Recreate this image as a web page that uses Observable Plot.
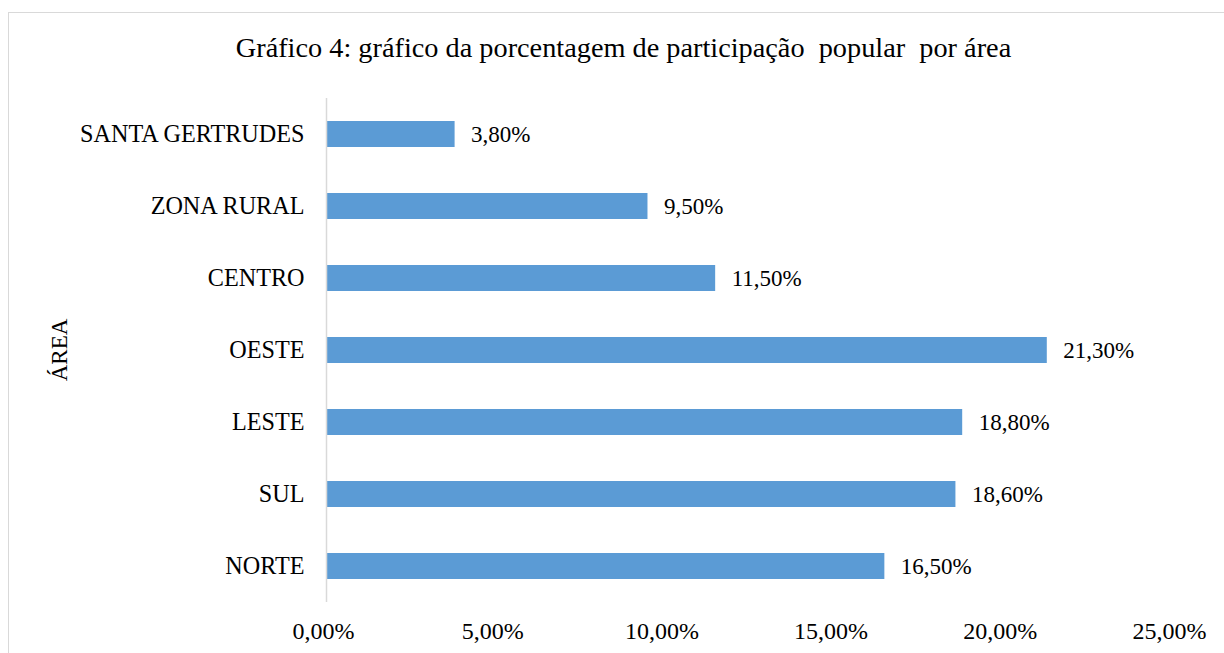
<!DOCTYPE html>
<html>
<head>
<meta charset="utf-8">
<script src="https://cdn.jsdelivr.net/npm/d3@7"></script>
<script src="https://cdn.jsdelivr.net/npm/@observablehq/plot@0.6"></script>
<style>
  html, body { margin: 0; padding: 0; background: #fff; }
  body { width: 1224px; height: 653px; overflow: hidden; position: relative; font-family: "Liberation Serif", "Times New Roman", serif; }
  #frame { position: absolute; left: 8px; top: 12px; width: 1240px; height: 700px; border: 1.5px solid #d9d9d9; box-sizing: border-box; }
  #title { position: absolute; left: 0; top: 32px; width: 1247px; text-align: center; font-size: 28.3px; color: #000; white-space: pre; }
  #ylabel { position: absolute; left: 60px; top: 350px; transform: translate(-50%, -50%) rotate(-90deg); font-size: 23px; color: #000; white-space: nowrap; }
  #chart { position: absolute; left: 0; top: 0; }
  #chart svg, #chart svg text { font-family: "Liberation Serif", "Times New Roman", serif !important; font-size: 23px; fill: #000; }
  #chart svg g[aria-label="y-axis tick label"] text { font-size: 24.2px !important; }
  #chart svg g[aria-label="x-axis tick label"] text { font-size: 24px !important; }
</style>
</head>
<body>
<div id="frame"></div>
<div id="chart"></div>
<div id="title">Gráfico 4: gráfico da porcentagem de participação  popular  por área</div>
<div id="ylabel">ÁREA</div>
<script>
const areas = ["SANTA GERTRUDES", "ZONA RURAL", "CENTRO", "OESTE", "LESTE", "SUL", "NORTE"];
const percentages = [3.8, 9.5, 11.5, 21.3, 18.8, 18.6, 16.5];
const xTicks = [0, 5, 10, 15, 20, 25];

const data = areas.map((a, i) => ({area: a, value: percentages[i]}));
const fmt = v => d3.format(".2f")(v).replace(".", ",") + "%";

const chart = Plot.plot({
  width: 1224,
  height: 653,
  marginLeft: 326,
  marginRight: 52,
  marginTop: 98,
  marginBottom: 51,
  style: {background: "transparent", overflow: "visible"},
  x: {domain: [0, 25], ticks: xTicks, tickFormat: fmt, tickSize: 0, tickPadding: 19, label: null},
  y: {domain: areas, paddingInner: 0.64, paddingOuter: 0.32, tickSize: 0, tickPadding: 22, label: null},
  marks: [
    Plot.barX(data, {x: "value", y: "area", fill: "#5b9bd5"}),
    Plot.ruleX([0], {stroke: "#d9d9d9", strokeWidth: 1.5}),
    Plot.axisX({ticks: xTicks, tickFormat: fmt, tickSize: 0, tickPadding: 19, dx: -3}),
    Plot.text(data, {x: "value", y: "area", text: d => fmt(d.value), textAnchor: "start", dx: 16, fill: "#000"})
  ]
});
document.getElementById("chart").appendChild(chart);
</script>
</body>
</html>
